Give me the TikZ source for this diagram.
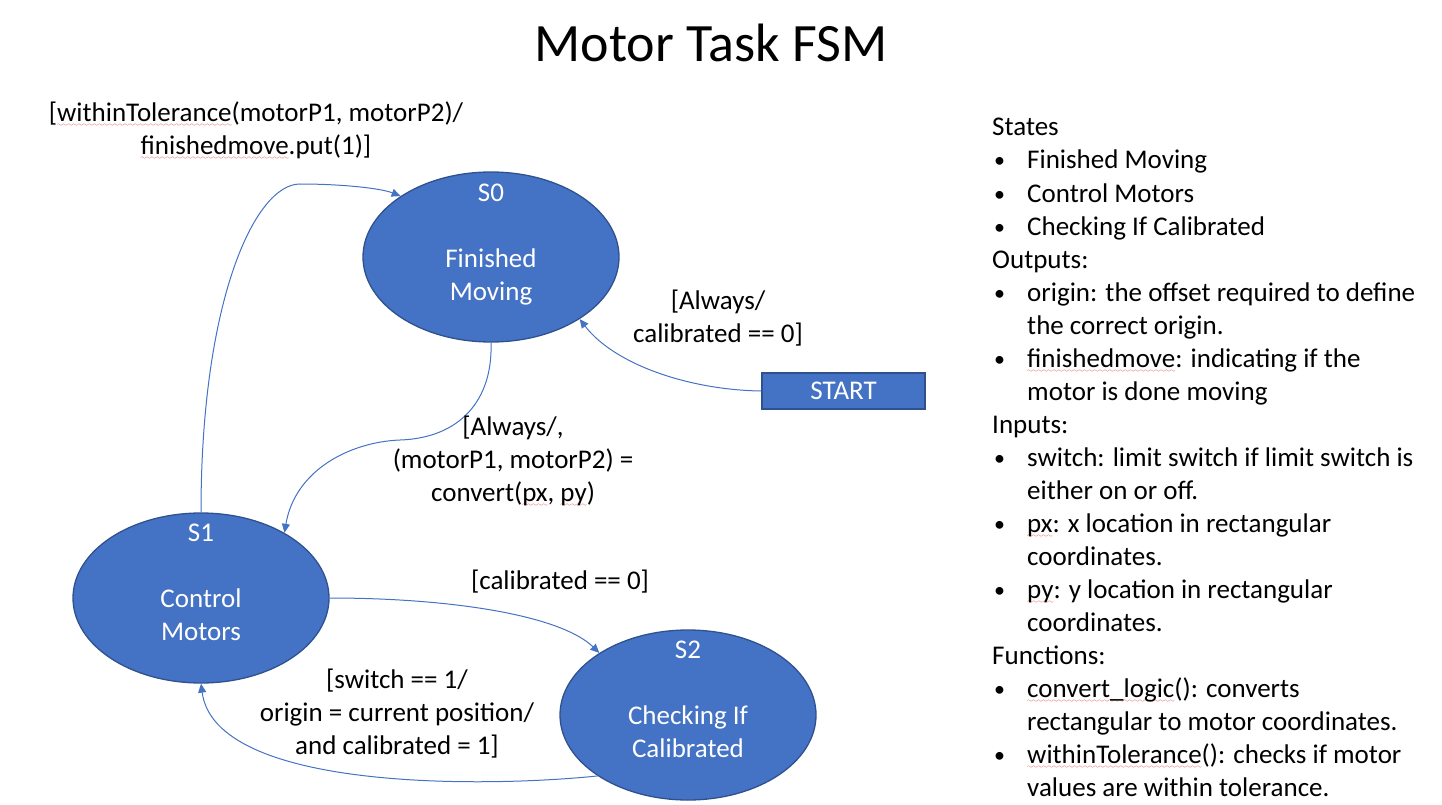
\documentclass[tikz,border=0pt]{standalone}
\usepackage{fontspec}
\setmainfont{Carlito}
\usetikzlibrary{arrows.meta,shapes.geometric}
\definecolor{ofblue}{HTML}{4472C4}
\definecolor{ofdark}{HTML}{2F528F}
\definecolor{sqred}{HTML}{E02020}
\font\wavefont=lasy6
\newcommand\sq[1]{\setbox0\hbox{#1}\rlap{\lower5pt\hbox to \wd0{\color{sqred}\xleaders\hbox{\wavefont\char58}\hfill}}\box0}
\newcommand\fs{\fontsize{27}{33}\selectfont}
\newcommand\bul{\makebox[35pt][l]{\hspace{2pt}\raisebox{1pt}{\fontsize{22}{22}\selectfont•}}}
\newcommand\ind{\hspace*{35pt}}
\begin{document}
\begin{tikzpicture}[x=1pt,y=-1pt,
  state/.style={ellipse,draw=ofdark,line width=1.3pt,fill=ofblue,minimum width=256pt,minimum height=170pt,inner sep=0pt},
  stext/.style={text=white,align=center,font=\fs,inner sep=0pt},
  lbl/.style={align=center,font=\fs,inner sep=0pt},
  listline/.style={anchor=base west,font=\fs,inner sep=0pt},
  conn/.style={draw=ofblue,line width=1pt,-{Triangle[length=9pt,width=8pt]}}]
\useasboundingbox (0,0) rectangle (1442,805);
\node[font=\fontsize{54}{60}\selectfont,inner sep=0pt] (title) at (711,43) {Motor Task FSM};
% states
\node[state] (s0) at (491,257) {};
\node[state] (s1) at (201,598) {};
\node[state] (s2) at (688,715) {};
\node[stext] (s0t) at (491,245) {S0\\[33pt]Finished\\Moving};
\node[stext] (s1t) at (201,582) {S1\\[33pt]Control\\Motors};
\node[stext] (s2t) at (688,699) {S2\\[33pt]Checking If\\Calibrated};
\node[draw=ofdark,line width=1.3pt,fill=ofblue,text=white,minimum width=163pt,minimum height=36pt,font=\fs,inner sep=0pt] (start) at (843.5,391) {START};
% connectors
\draw[conn] (s1.north) .. controls (201,300) and (255,184) .. (300,184) .. controls (340,184) and (380,188) .. (s0.146);
\draw[conn] (s0.south) .. controls (493,400) and (460,438) .. (400,440) .. controls (350,442) and (295,470) .. (s1.38);
\draw[conn] (start.west) .. controls (690,390) and (615,365) .. (s0.-35);
\draw[conn] (s1.east) .. controls (450,598) and (560,615) .. (s2.145);
\draw[conn] (s2.214) .. controls (480,788) and (215,790) .. (s1.south);
% labels
\node[lbl] (l1) at (256,131) {[\sq{withinTolerance}(motorP1, motorP2)/\\\sq{finishedmove}.put(1)]};
\node[lbl] (l2) at (513,461) {[Always/,\\(motorP1, motorP2) =\\convert(\sq{px}, \sq{py})};
\node[lbl] (l3) at (718,318) {[Always/\\calibrated == 0]};
\node[lbl] (l4) at (560,582) {[calibrated == 0]};
\node[lbl] (l5) at (397,714) {[switch == 1/\\origin = current position/\\and calibrated = 1]};
% right list
\foreach \t [count=\i] in {
  {States},
  {\bul Finished Moving},
  {\bul Control Motors},
  {\bul Checking If Calibrated},
  {Outputs:},
  {\bul origin: the offset required to define},
  {\ind the correct origin.},
  {\bul \sq{finishedmove}: indicating if the},
  {\ind motor is done moving},
  {Inputs:},
  {\bul switch: limit switch if limit switch is},
  {\ind either on or off.},
  {\bul \sq{px}: x location in rectangular},
  {\ind coordinates.},
  {\bul \sq{py}: y location in rectangular},
  {\ind coordinates.},
  {Functions:},
  {\bul \sq{convert\_logic}(): converts},
  {\ind rectangular to motor coordinates.},
  {\bul \sq{withinTolerance}(): checks if motor},
  {\ind values are within tolerance.}}
  \node[listline] (r\i) at (992,{136+33*(\i-1)}) {\t};
\end{tikzpicture}
\end{document}
